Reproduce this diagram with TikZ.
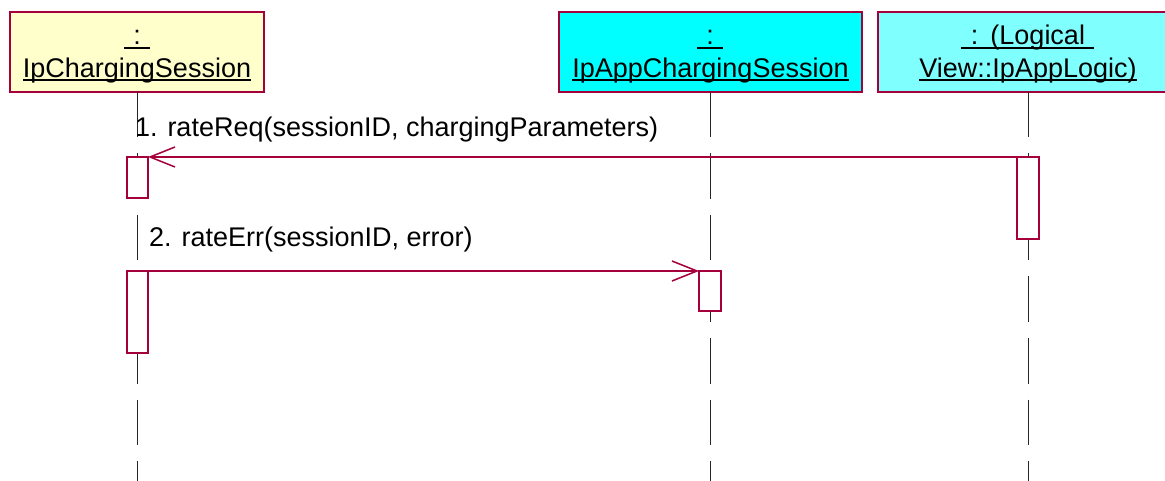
\documentclass[tikz,border=0pt]{standalone}
\usepackage{fontspec}
\setmainfont{Liberation Sans}
\usetikzlibrary{arrows.meta}
\definecolor{umlred}{RGB}{165,0,60}
\definecolor{ipyellow}{HTML}{FFFFCC}
\definecolor{ipcyan}{HTML}{00FFFF}
\definecolor{iplightcyan}{HTML}{80FFFF}
\newsavebox\ulsave
\newcommand\ulbox[1]{\sbox\ulsave{#1}\rlap{\rule[-3.6pt]{\wd\ulsave}{1.8pt}}\usebox\ulsave}
\begin{document}
\begin{tikzpicture}[x=1pt,y=1pt,
  every node/.style={font=\fontsize{27}{32}\selectfont},
  objbox/.style={draw=umlred,line width=1.3pt,minimum width=#1,minimum height=80pt,inner sep=0pt,outer sep=0pt},
  objtext/.style={anchor=base,inner sep=0pt,outer sep=0pt},
  lifeline/.style={draw=black!85,line width=1pt,dash pattern=on 45.5pt off 16pt},
  act/.style={draw=umlred,fill=white,line width=1.2pt,minimum width=21pt,minimum height=#1,inner sep=0pt,outer sep=0pt},
  msg/.style={draw=umlred,line width=1.3pt,-{Straight Barb[length=25pt,width=20pt,line width=1.5pt]}},
  msgtext/.style={anchor=base west,inner sep=0pt,outer sep=0pt}
]
\useasboundingbox (0,0) rectangle (1165,-481);
\clip (0,0) rectangle (1165,-481);

% object boxes
\node[objbox=254pt,fill=ipyellow] (b1) at (137,-52) {};
\node[objbox=303pt,fill=ipcyan] (b2) at (710.5,-52) {};
\node[objbox=300pt,fill=iplightcyan] (b3) at (1028,-52) {};

\node[objtext] (t1a) at (137,-45) {\ulbox{\hspace{9pt}:\hspace{9pt}}};
\node[objtext] (t1b) at (137,-77.5) {\ulbox{IpChargingSession}};
\node[objtext] (t2a) at (710,-45) {\ulbox{\hspace{9pt}:\hspace{9pt}}};
\node[objtext] (t2b) at (710.5,-77.5) {\ulbox{IpAppChargingSession}};
\node[objtext] (t3a) at (1027.5,-45) {\ulbox{\hspace{10pt}:\hspace{12pt}(Logical\hspace{9pt}}};
\node[objtext] (t3b) at (1028,-77.5) {\ulbox{View::IpAppLogic)}};

% lifeline ends
\coordinate (e1) at (137,-481);
\coordinate (e2) at (710.5,-481);
\coordinate (e3) at (1028,-481);
\draw[lifeline] (b1.south) -- (e1);
\draw[lifeline] (b2.south) -- (e2);
\draw[lifeline] (b3.south) -- (e3);

% activations
\node[act=41pt] (a1) at (137.5,-177.5) {};
\node[act=82pt] (a1b) at (137.5,-312) {};
\node[act=40pt,minimum width=22pt] (a2) at (710,-291) {};
\node[act=82pt,minimum width=22pt] (a3) at (1028,-198) {};

% messages
\draw[msg] (a3.north west) -- (a1.north east);
\draw[msg] (a1b.north east) -- (a2.north west);

\node[msgtext] (m1) at (135,-137) {1. rateReq(sessionID, chargingParameters)};
\node[msgtext] (m2) at (149,-247) {2. rateErr(sessionID, error)};
\end{tikzpicture}
\end{document}
